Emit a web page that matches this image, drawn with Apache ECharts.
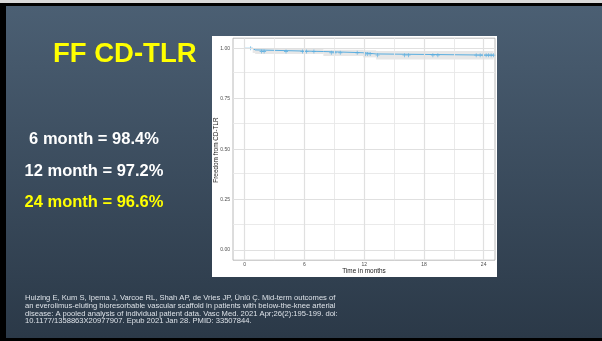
<!DOCTYPE html>
<html>
<head>
<meta charset="utf-8">
<script src="https://cdn.jsdelivr.net/npm/echarts@6/dist/echarts.min.js"></script>
<style>
  html, body { margin: 0; padding: 0; background: #000; }
  #c { width: 602px; height: 341px; }
</style>
</head>
<body>
<div id="c"></div>
<script>
// Kaplan-Meier estimate: step times (months) and survival after each step
const stepTimes = [0, 0.8, 1.05, 7.9, 11.9, 13.2, 25.0];
const survival  = [1.000, 0.992, 0.984, 0.978, 0.972, 0.966, 0.966];
// 95% confidence band
const lowerCI   = [1.000, 0.977, 0.972, 0.962, 0.955, 0.944, 0.944];
const upperCI   = [1.000, 1.000, 0.996, 0.993, 0.990, 0.986, 0.986];
// censored observations (months)
const censorTimes = [0.6, 1.7, 1.95, 4.15, 5.8, 6.0, 6.2, 6.95, 8.7, 9.05, 9.6, 11.3,
  12.15, 12.35, 12.6, 13.35, 16.05, 16.45, 18.9, 19.4,
  23.25, 23.65, 23.95, 24.25, 24.5, 24.75, 24.98];

const xTicks = [0, 6, 12, 18, 24];
const xMinor = [3, 9, 15, 21];
const yTicks = [0, 0.25, 0.5, 0.75, 1];
const yMinor = [0.125, 0.375, 0.625, 0.875];

const slideTitle = 'FF CD-TLR';
const milestones = ['6 month = 98.4%', '12 month = 97.2%', '24 month = 96.6%'];
const xTitle = 'Time in months';
const yTitle = 'Freedom from CD-TLR';
const citation = [
  'Huizing E, Kum S, Ipema J, Varcoe RL, Shah AP, de Vries JP, Ünlü Ç. Mid-term outcomes of',
  'an everolimus-eluting bioresorbable vascular scaffold in patients with below-the-knee arterial',
  'disease: A pooled analysis of individual patient data. Vasc Med. 2021 Apr;26(2):195-199. doi:',
  '10.1177/1358863X20977907. Epub 2021 Jan 28. PMID: 33507844.'
];

const curveColor = '#5aaee0';
const font = '"Liberation Sans", Arial, sans-serif';

function survivalAt(t) {
  let v = survival[0];
  for (let i = 0; i < stepTimes.length; i++) if (stepTimes[i] <= t) v = survival[i];
  return v;
}

// band segments: [start, end, lower, upper]
const bandData = [];
for (let i = 0; i < stepTimes.length - 1; i++) {
  bandData.push([stepTimes[i], stepTimes[i + 1], lowerCI[i], upperCI[i]]);
}
const curveData = stepTimes.map((t, i) => [t, survival[i]]);
const censorData = censorTimes.map(t => [t, survivalAt(t)]);

const plusPath = 'path://M4,0H6V4H10V6H6V10H4V6H0V4H4Z';

const chart = echarts.init(document.getElementById('c'), null, { renderer: 'canvas' });

const graphics = [
  { type: 'rect', z: -100, shape: { x: 0, y: 0, width: 602, height: 3 }, style: { fill: '#d9d9d9' } },
  { type: 'rect', z: -100, shape: { x: 6, y: 6, width: 596, height: 332 },
    style: { fill: new echarts.graphic.LinearGradient(0, 0, 0, 1, [
      { offset: 0, color: '#4b5f73' }, { offset: 1, color: '#2b3948' }]) } },
  { type: 'rect', z: -90, shape: { x: 212, y: 36, width: 285, height: 241 }, style: { fill: '#ffffff' } },
  { type: 'text', z: 100, x: 53, y: 54,
    style: { text: slideTitle, fill: '#ffff00', font: 'bold 27.5px ' + font, verticalAlign: 'middle' } },
  { type: 'text', z: 100, x: 94, y: 139,
    style: { text: milestones[0], fill: '#ffffff', font: 'bold 16.5px ' + font, align: 'center', verticalAlign: 'middle' } },
  { type: 'text', z: 100, x: 94, y: 171,
    style: { text: milestones[1], fill: '#ffffff', font: 'bold 16.5px ' + font, align: 'center', verticalAlign: 'middle' } },
  { type: 'text', z: 100, x: 94, y: 202,
    style: { text: milestones[2], fill: '#ffff00', font: 'bold 16.5px ' + font, align: 'center', verticalAlign: 'middle' } },
  { type: 'text', z: 100, x: 216, y: 150, rotation: Math.PI / 2,
    style: { text: yTitle, fill: '#1a1a1a', font: '6.4px ' + font, align: 'center', verticalAlign: 'middle' } },
  { type: 'text', z: 100, x: 364, y: 271.5,
    style: { text: xTitle, fill: '#1a1a1a', font: '6.4px ' + font, align: 'center', verticalAlign: 'middle' } }
];
citation.forEach((line, i) => {
  graphics.push({ type: 'text', z: 100, x: 25, y: 298 + i * 7.8,
    style: { text: line, fill: '#dde2e8', font: '7.6px ' + font, verticalAlign: 'middle' } });
});

const gridLine = (vals, axis, width, color) => ({
  silent: true, symbol: 'none', label: { show: false },
  lineStyle: { color: color, width: width, type: 'solid' },
  data: vals.map(v => ({ [axis]: v }))
});

chart.setOption({
  backgroundColor: '#000',
  animation: false,
  graphic: graphics,
  grid: { left: 233, top: 38.2, width: 262, height: 222, show: true,
    borderColor: '#a8a8a8', borderWidth: 0.8, backgroundColor: 'transparent' },
  xAxis: {
    type: 'value', min: -1.175, max: 25.14,
    axisLine: { show: false },
    splitLine: { show: false },
    axisTick: { show: true, customValues: xTicks, length: 2, lineStyle: { color: '#333', width: 0.6 } },
    axisLabel: { customValues: xTicks, fontSize: 5, color: '#4d4d4d', margin: 2, fontFamily: font }
  },
  yAxis: {
    type: 'value', min: -0.05, max: 1.05,
    axisLine: { show: false },
    splitLine: { show: false },
    axisTick: { show: true, customValues: yTicks, length: 2, lineStyle: { color: '#333', width: 0.6 } },
    axisLabel: { customValues: yTicks, fontSize: 5, color: '#4d4d4d', margin: 3, fontFamily: font,
      formatter: v => v.toFixed(2) }
  },
  series: [
    { type: 'line', data: [], z: 1, silent: true,
      markLine: gridLine(xMinor, 'xAxis', 0.9, '#e8e8e8') },
    { type: 'line', data: [], z: 1, silent: true,
      markLine: gridLine(yMinor, 'yAxis', 0.9, '#e8e8e8') },
    { type: 'line', data: [], z: 1, silent: true,
      markLine: gridLine(xTicks, 'xAxis', 1.2, '#e0e0e0') },
    { type: 'line', data: [], z: 1, silent: true,
      markLine: gridLine(yTicks, 'yAxis', 1.2, '#e0e0e0') },
    { type: 'custom', data: bandData, z: 2, silent: true,
      renderItem: (params, api) => {
        const p0 = api.coord([api.value(0), api.value(3)]);
        const p1 = api.coord([api.value(1), api.value(2)]);
        return { type: 'rect', shape: { x: p0[0], y: p0[1], width: p1[0] - p0[0], height: p1[1] - p0[1] },
          style: { fill: 'rgba(185,185,185,0.35)' } };
      } },
    { type: 'line', step: 'end', data: curveData, symbol: 'none', z: 3,
      lineStyle: { color: curveColor, width: 1 } },
    { type: 'scatter', data: censorData, symbol: plusPath, symbolSize: 4, z: 4,
      itemStyle: { color: curveColor } }
  ]
});
</script>
</body>
</html>
